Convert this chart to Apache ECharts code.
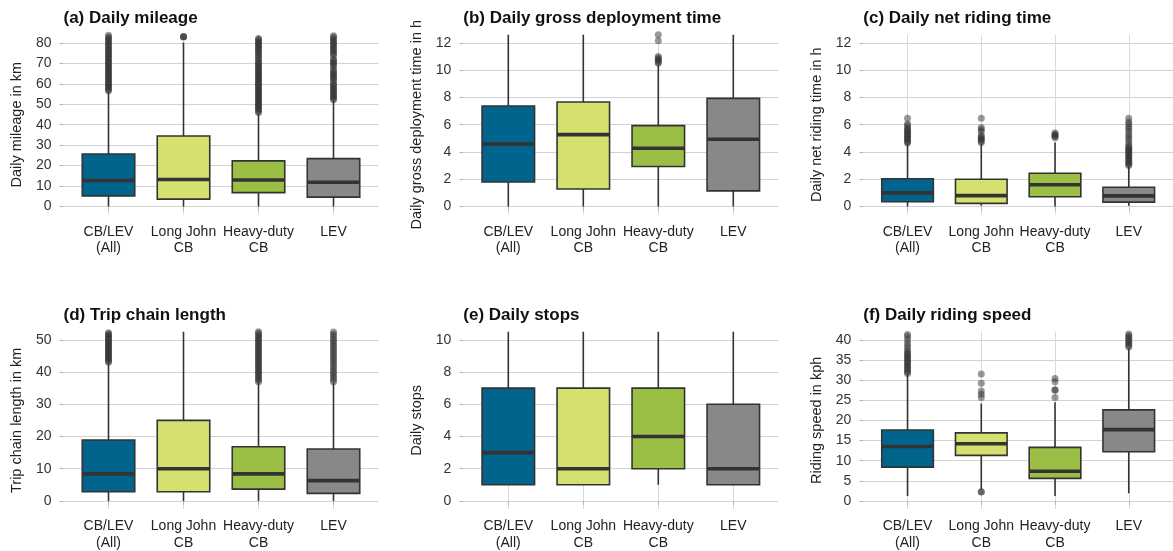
<!DOCTYPE html>
<html>
<head>
<meta charset="utf-8">
<script src="https://cdn.jsdelivr.net/npm/echarts@6/dist/echarts.min.js"></script>
<style>
  html, body { margin: 0; padding: 0; background: #fff; }
  #main { width: 1173px; height: 551px; }
</style>
</head>
<body>
<div id="main"></div>
<script>
// categories shared by all six panels
var categories = ['CB/LEV\n(All)', 'Long John\nCB', 'Heavy-duty\nCB', 'LEV'];

// each stats row: [lower whisker, Q1, median, Q3, upper whisker]
var mileageStats = [[0, 5.2, 12.7, 25.7, 56.2], [0, 3.6, 13.2, 34.5, 80.2], [0, 6.8, 13.0, 22.3, 45.6], [0, 4.6, 11.9, 23.4, 51.8]];
var mileageOutliers = [
    [56.6, 57.1, 57.9, 58.4, 59.2, 59.8, 60.5, 61.1, 61.9, 62.6, 63.2, 64.0, 64.7, 65.3, 66.1, 66.8, 67.5, 68.2, 68.9, 69.7, 70.4, 71.0, 71.8, 72.5, 73.3, 74.0, 74.6, 75.4, 76.2, 76.9, 77.5, 78.3, 79.1, 79.8, 80.6, 81.4, 82.1, 82.9, 83.7, 84.5, 85.3],
    [82.9, 83.0, 83.1],
    [46.0, 46.6, 47.3, 47.9, 48.6, 49.2, 49.9, 50.5, 51.2, 51.8, 52.5, 53.1, 53.8, 54.4, 55.1, 55.7, 56.4, 57.0, 57.7, 58.3, 59.0, 59.6, 60.3, 60.9, 61.6, 62.2, 62.9, 63.5, 64.2, 64.8, 65.5, 66.1, 66.8, 67.4, 68.1, 68.7, 69.4, 70.0, 70.9, 71.8, 72.6, 73.5, 74.3, 75.2, 76.0, 76.7, 77.4, 78.1, 78.8, 79.5, 80.2, 80.9, 81.6, 82.1],
    [52.2, 52.9, 53.6, 54.3, 55.0, 55.8, 56.5, 57.2, 57.9, 58.7, 59.4, 60.1, 61.5, 62.3, 63.0, 63.8, 64.5, 65.2, 66.0, 66.9, 68.3, 69.1, 69.9, 70.6, 71.4, 72.1, 73.9, 74.7, 75.5, 76.3, 77.1, 77.9, 78.7, 79.5, 80.3, 81.1, 81.9, 82.7, 83.5, 84.3, 85.1]
];

var grossStats = [[0, 1.8, 4.59, 7.37, 14], [0, 1.29, 5.27, 7.66, 14], [0, 2.93, 4.27, 5.93, 10.4], [0, 1.15, 4.93, 7.93, 14]];
var grossOutliers = [[], [], [10.5, 10.6, 10.7, 10.8, 10.9, 11.0, 12.15, 12.6], []];

var netStats = [[0, 0.35, 1.0, 2.04, 4.6], [0.05, 0.23, 0.8, 2.0, 4.6], [0, 0.72, 1.6, 2.44, 4.7], [0.05, 0.32, 0.78, 1.41, 2.95]];
var netOutliers = [
    [4.65, 4.75, 4.85, 4.95, 5.05, 5.15, 5.25, 5.35, 5.45, 5.55, 5.65, 5.75, 5.95, 6.05, 6.47],
    [4.7, 4.8, 4.9, 5.0, 5.1, 5.2, 5.5, 5.65, 5.8, 6.47],
    [5.05, 5.15, 5.2, 5.3, 5.4],
    [3.0, 3.1, 3.2, 3.3, 3.4, 3.5, 3.6, 3.7, 3.8, 3.9, 4.0, 4.1, 4.2, 4.3, 4.4, 4.55, 4.75, 4.95, 5.12, 5.3, 5.5, 5.7, 5.85, 6.05, 6.2, 6.47]
];

var tripStats = [[0, 2.86, 8.4, 18.9, 42.8], [0, 2.86, 10.0, 25.0, 56], [0, 3.67, 8.4, 16.8, 36.8], [0, 2.35, 6.3, 16.1, 36.6]];
var tripOutliers = [
    [43.0, 43.4, 43.8, 44.2, 44.6, 45.0, 45.4, 45.8, 46.2, 46.6, 47.0, 47.4, 47.8, 48.2, 48.6, 49.0, 49.4, 49.8, 50.2, 50.6, 51.0, 51.4, 51.8, 52.2, 52.6, 53.0, 53.4],
    [],
    [37.0, 37.5, 38.0, 38.5, 39.0, 39.5, 40.0, 40.5, 41.0, 41.5, 42.0, 42.5, 43.0, 43.5, 44.0, 44.5, 45.0, 45.5, 46.0, 46.5, 47.0, 47.5, 48.0, 48.5, 49.0, 49.5, 50.0, 50.5, 51.0, 51.5, 52.0, 52.5, 53.0],
    [37.0, 37.7, 38.4, 39.1, 39.8, 40.5, 41.2, 41.9, 42.6, 43.3, 44.0, 44.7, 45.4, 46.1, 46.8, 47.5, 48.2, 48.9, 49.6, 50.3, 51.0, 51.7, 52.4, 53.1]
];

var stopsStats = [[1, 1, 3, 7, 12], [1, 1, 2, 7, 12], [1, 2, 4, 7, 12], [1, 1, 2, 6, 12]];
var stopsOutliers = [[], [], [], []];

var speedStats = [[1.2, 8.4, 13.5, 17.6, 31.4], [2.9, 11.3, 14.2, 16.9, 24.2], [1.2, 5.6, 7.35, 13.3, 24.5], [1.9, 12.2, 17.7, 22.6, 37.8]];
var speedOutliers = [
    [31.6, 32.0, 32.4, 32.8, 33.2, 33.6, 34.0, 34.4, 34.8, 35.2, 35.6, 36.0, 36.4, 36.8, 37.2, 37.8, 38.5, 39.2, 40.0, 40.8, 41.3],
    [2.2, 2.3, 25.7, 26.5, 27.3, 29.2, 31.5],
    [25.7, 27.5, 27.6, 29.6, 30.4],
    [38.2, 38.6, 39.0, 39.4, 39.8, 40.2, 40.6, 41.0, 41.4]
];

// tick labels
var mileageTicks = [0, 10, 20, 30, 40, 50, 60, 70, 80];
var hourTicks = [0, 2, 4, 6, 8, 10, 12];
var tripTicks = [0, 10, 20, 30, 40, 50];
var stopsTicks = [0, 2, 4, 6, 8, 10];
var speedTicks = [0, 5, 10, 15, 20, 25, 30, 35, 40];
var catTicks = [1, 2, 3, 4];

var boxColors = ['#00648c', '#d6e06e', '#9bbf45', '#888888'];
var FONT = 'Liberation Sans, Arial, sans-serif';
var BOX_W = 0.7;

var panels = [
    { title: '(a) Daily mileage', yName: 'Daily mileage in km', stats: mileageStats, outliers: mileageOutliers, ticks: mileageTicks, range: [-4, 84], left: 63.5, top: 34.7 },
    { title: '(b) Daily gross deployment time', yName: 'Daily gross deployment time in h', stats: grossStats, outliers: grossOutliers, ticks: hourTicks, range: [-0.6, 12.6], left: 463.3, top: 34.7 },
    { title: '(c) Daily net riding time', yName: 'Daily net riding time in h', stats: netStats, outliers: netOutliers, ticks: hourTicks, range: [-0.6, 12.6], left: 863.3, top: 34.7 },
    { title: '(d) Trip chain length', yName: 'Trip chain length in km', stats: tripStats, outliers: tripOutliers, ticks: tripTicks, range: [-2.5, 52.5], left: 63.5, top: 331.7 },
    { title: '(e) Daily stops', yName: 'Daily stops', stats: stopsStats, outliers: stopsOutliers, ticks: stopsTicks, range: [-0.5, 10.5], left: 463.3, top: 331.7 },
    { title: '(f) Daily riding speed', yName: 'Riding speed in kph', stats: speedStats, outliers: speedOutliers, ticks: speedTicks, range: [-2, 42], left: 863.3, top: 331.7 }
];

function renderBox(params, api) {
    var x = api.value(0);
    var half = api.size([BOX_W, 0])[0] / 2;
    var pLo = api.coord([x, api.value(1)]);
    var pQ1 = api.coord([x, api.value(2)]);
    var pMed = api.coord([x, api.value(3)]);
    var pQ3 = api.coord([x, api.value(4)]);
    var pHi = api.coord([x, api.value(5)]);
    var line = { stroke: '#333333', lineWidth: 1.6 };
    return {
        type: 'group',
        children: [
            { type: 'line', shape: { x1: pLo[0], y1: pLo[1], x2: pQ1[0], y2: pQ1[1] }, style: line },
            { type: 'line', shape: { x1: pQ3[0], y1: pQ3[1], x2: pHi[0], y2: pHi[1] }, style: line },
            { type: 'rect', shape: { x: pQ3[0] - half, y: pQ3[1], width: half * 2, height: pQ1[1] - pQ3[1] },
              style: { fill: boxColors[params.dataIndex], stroke: '#333333', lineWidth: 1.6 } },
            { type: 'line', shape: { x1: pMed[0] - half, y1: pMed[1], x2: pMed[0] + half, y2: pMed[1] },
              style: { stroke: '#333333', lineWidth: 3.6 } }
        ]
    };
}

var option = { animation: false, textStyle: { fontFamily: FONT }, title: [], grid: [], xAxis: [], yAxis: [], series: [] };

panels.forEach(function (p, i) {
    option.title.push({
        text: p.title, left: p.left, top: p.top - 25, padding: 0,
        textStyle: { fontSize: 17, fontWeight: 'bold', color: '#111', fontFamily: FONT }
    });
    option.grid.push({ left: p.left, top: p.top, width: 315, height: 180 });
    option.xAxis.push({
        gridIndex: i, type: 'value', min: 0.4, max: 4.6,
        axisLine: { show: false },
        axisTick: { show: true, length: 4, customValues: catTicks, lineStyle: { color: '#b5b5b5' } },
        axisLabel: {
            customValues: catTicks, fontSize: 14, lineHeight: 16.5, color: '#222', margin: 9, fontFamily: FONT,
            formatter: function (v) { return categories[Math.round(v) - 1]; }
        },
        splitLine: { show: true, lineStyle: { color: '#dadada', width: 1 } }
    });
    option.yAxis.push({
        gridIndex: i, type: 'value', min: p.range[0], max: p.range[1],
        name: p.yName, nameLocation: 'middle', nameGap: 39,
        nameTextStyle: { fontSize: 14.5, color: '#222', fontFamily: FONT },
        axisLine: { show: false },
        axisTick: { show: true, length: 4, customValues: p.ticks, lineStyle: { color: '#b5b5b5' } },
        axisLabel: { customValues: p.ticks, fontSize: 14, color: '#333', margin: 12, fontFamily: FONT },
        splitLine: { show: true, lineStyle: { color: '#d2d2d2', width: 1 } }
    });
    var pts = [];
    p.outliers.forEach(function (list, c) {
        list.forEach(function (v) { pts.push([c + 1, v]); });
    });
    option.series.push({
        type: 'scatter', xAxisIndex: i, yAxisIndex: i, data: pts, symbolSize: 7, clip: true,
        itemStyle: { color: '#333333', opacity: 0.5 }, silent: true
    });
    option.series.push({
        type: 'custom', xAxisIndex: i, yAxisIndex: i, clip: true, renderItem: renderBox,
        encode: { x: 0, y: [1, 2, 3, 4, 5] },
        data: p.stats.map(function (s, c) { return [c + 1].concat(s); })
    });
});

var chart = echarts.init(document.getElementById('main'));
chart.setOption(option);
</script>
</body>
</html>
